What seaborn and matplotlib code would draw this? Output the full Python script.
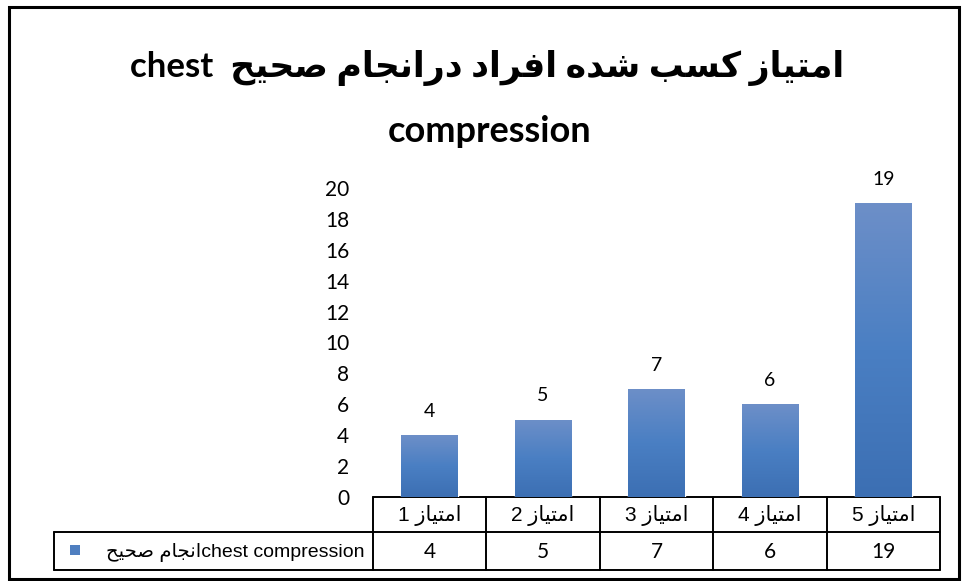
import numpy as np
import pandas as pd
import matplotlib
matplotlib.use("Agg")
import matplotlib.pyplot as plt
from matplotlib.patches import Rectangle
from matplotlib.transforms import blended_transform_factory
from matplotlib.colors import LinearSegmentedColormap
import seaborn as sns

# data
title_line1 = "امتیاز کسب شده افراد درانجام صحیح  chest"
title_line2 = "compression"
categories = ["امتیاز 1", "امتیاز 2", "امتیاز 3", "امتیاز 4", "امتیاز 5"]
values = [4, 5, 7, 6, 19]
series_name = "chest compressionانجام صحیح"
y_ticks = list(range(0, 21, 2))

# arabic presentation forms: isolated, final, initial, medial
FORMS = {
    "ا": ("\uFE8D", "\uFE8E", None, None),
    "ب": ("\uFE8F", "\uFE90", "\uFE91", "\uFE92"),
    "ت": ("\uFE95", "\uFE96", "\uFE97", "\uFE98"),
    "ج": ("\uFE9D", "\uFE9E", "\uFE9F", "\uFEA0"),
    "ح": ("\uFEA1", "\uFEA2", "\uFEA3", "\uFEA4"),
    "د": ("\uFEA9", "\uFEAA", None, None),
    "ر": ("\uFEAD", "\uFEAE", None, None),
    "ز": ("\uFEAF", "\uFEB0", None, None),
    "س": ("\uFEB1", "\uFEB2", "\uFEB3", "\uFEB4"),
    "ش": ("\uFEB5", "\uFEB6", "\uFEB7", "\uFEB8"),
    "ص": ("\uFEB9", "\uFEBA", "\uFEBB", "\uFEBC"),
    "ف": ("\uFED1", "\uFED2", "\uFED3", "\uFED4"),
    "م": ("\uFEE1", "\uFEE2", "\uFEE3", "\uFEE4"),
    "ن": ("\uFEE5", "\uFEE6", "\uFEE7", "\uFEE8"),
    "ه": ("\uFEE9", "\uFEEA", "\uFEEB", "\uFEEC"),
    "ک": ("\uFB8E", "\uFB8F", "\uFB90", "\uFB91"),
    "ی": ("\uFBFC", "\uFBFD", "\uFBFE", "\uFBFF"),
}


def shape(text):
    out = []
    for i, ch in enumerate(text):
        if ch not in FORMS:
            out.append(ch)
            continue
        prev = text[i - 1] if i > 0 else ""
        nxt = text[i + 1] if i + 1 < len(text) else ""
        f = FORMS[ch]
        join_prev = prev in FORMS and FORMS[prev][2] is not None
        join_next = f[2] is not None and nxt in FORMS
        if join_prev and join_next:
            out.append(f[3])
        elif join_prev:
            out.append(f[1])
        elif join_next:
            out.append(f[2])
        else:
            out.append(f[0])
    return "".join(out)


def visual(text):
    # simple bidi for a right-to-left paragraph
    kinds = []
    for ch in text:
        if ch in FORMS:
            kinds.append("R")
        elif ch.isalnum():
            kinds.append("L")
        else:
            kinds.append("N")
    levels = []
    for i, k in enumerate(kinds):
        if k == "R":
            levels.append(1)
        elif k == "L":
            levels.append(2)
        else:
            left = next((kinds[j] for j in range(i - 1, -1, -1) if kinds[j] != "N"), "R")
            right = next((kinds[j] for j in range(i + 1, len(kinds)) if kinds[j] != "N"), "R")
            levels.append(2 if left == "L" and right == "L" else 1)
    chars = list(shape(text))
    i = 0
    while i < len(chars):
        if levels[i] == 2:
            j = i
            while j < len(chars) and levels[j] == 2:
                j += 1
            chars[i:j] = chars[i:j][::-1]
            i = j
        else:
            i += 1
    return "".join(chars[::-1])


sns.set_theme(style="white")
plt.rcParams["font.family"] = ["Lato", "DejaVu Sans"]
plt.rcParams["text.color"] = "black"
calibri = ["Lato", "DejaVu Sans"]
arial = ["Liberation Sans", "DejaVu Sans"]

W, H = 963, 581
fig = plt.figure(figsize=(W / 100, H / 100), dpi=100)
fig.patch.set_facecolor("white")

ax = fig.add_axes([373 / W, (H - 497) / H, (940 - 373) / W, (497 - 188) / H])
df = pd.DataFrame({"category": categories, "value": values})
sns.barplot(data=df, x="category", y="value", width=0.5, color="#4F7FC0",
            saturation=1, ax=ax)

# gradient fill on bars
cmap = LinearSegmentedColormap.from_list("bar", ["#3C6FB3", "#4A7FC3", "#6D8FC8"])
grad = np.linspace(0, 1, 256).reshape(-1, 1)
for p in ax.patches:
    x0, y0 = p.get_x(), p.get_y()
    img = ax.imshow(grad, extent=[x0, x0 + p.get_width(), y0, y0 + p.get_height()],
                    origin="lower", cmap=cmap, aspect="auto", zorder=p.get_zorder() + 0.1)
    img.set_clip_path(p)

ax.set_xlim(-0.5, 4.5)
ax.set_ylim(0, 20)
ax.set_yticks(y_ticks)
ax.set_yticklabels([str(t) for t in y_ticks], fontsize=15, family=calibri)
ax.tick_params(axis="y", length=0, pad=17, colors="black")
ax.set_xticks([])
ax.set_xlabel("")
ax.set_ylabel("")
sns.despine(ax=ax, left=True, bottom=True)
ax.set_facecolor("none")

for i, v in enumerate(values):
    ax.annotate(str(v), (i, v), xytext=(0, 11), textcoords="offset points",
                ha="center", va="bottom", fontsize=14, family=calibri, color="black")

# overlay in pixel coordinates for title, table and frame
ov = fig.add_axes([0, 0, 1, 1], zorder=-1)
ov.set_xlim(0, W)
ov.set_ylim(H, 0)
ov.axis("off")

ov.add_patch(Rectangle((9, 7), 950, 572, fill=False, edgecolor="black", lw=2.2))

ov.text(487, 68, visual(title_line1), ha="center", va="center", fontsize=25,
        fontweight="bold", family=calibri, color="black")
ov.text(490, 132, title_line2, ha="center", va="center", fontsize=26,
        fontweight="bold", family=calibri, color="black")

# data table
tr = blended_transform_factory(ax.transData, ov.transData)
y_top, y_mid, y_bot = 497, 532, 570
lc = "black"
lw = 1.4
ov.plot([-0.5, 4.5], [y_top, y_top], color=lc, lw=lw, transform=tr, clip_on=False)
ov.plot([-0.5, 4.5], [y_mid, y_mid], color=lc, lw=lw, transform=tr, clip_on=False)
ov.plot([-0.5, 4.5], [y_bot, y_bot], color=lc, lw=lw, transform=tr, clip_on=False)
ov.plot([54, 373], [y_mid, y_mid], color=lc, lw=lw, clip_on=False)
ov.plot([54, 373], [y_bot, y_bot], color=lc, lw=lw, clip_on=False)
ov.plot([54, 54], [y_mid, y_bot], color=lc, lw=lw, clip_on=False)
for i in range(len(categories) + 1):
    ov.plot([i - 0.5, i - 0.5], [y_top, y_bot], color=lc, lw=lw, transform=tr, clip_on=False)

for i, (c, v) in enumerate(zip(categories, values)):
    ov.text(i, (y_top + y_mid) / 2 + 1, visual(c), transform=tr, ha="center", va="center",
            fontsize=15, family=arial, color="black")
    ov.text(i, (y_mid + y_bot) / 2 + 1, str(v), transform=tr, ha="center", va="center",
            fontsize=15, family=calibri, color="black")

ov.add_patch(Rectangle((70, 545), 10, 10, facecolor="#4F7FC0", edgecolor="none"))
ov.text(364, (y_mid + y_bot) / 2 + 1, visual(series_name), ha="right", va="center",
        fontsize=14, family=arial, color="black")

fig.savefig("out.png", dpi=100)
